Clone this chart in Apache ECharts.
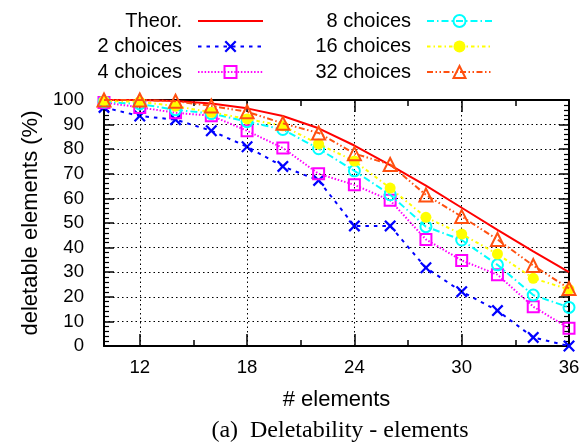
<!DOCTYPE html>
<html>
<head>
<meta charset="utf-8">
<script src="https://cdn.jsdelivr.net/npm/echarts@6/dist/echarts.min.js"></script>
<style>html,body{margin:0;padding:0;background:#fff}#c{width:585px;height:447px}</style>
</head>
<body>
<div id="c"></div>
<script>
// ---- data ----
const elements = [10, 12, 14, 16, 18, 20, 22, 24, 26, 28, 30, 32, 34, 36];
const theor    = [100, 100, 99.6, 98.6, 96.6, 93.5, 88.5, 81.5, 73.5, 65.2, 56.2, 47.2, 38.5, 30];
const choices2 = [97, 93.5, 92, 87.5, 81, 73, 67.3, 48.8, 48.8, 31.8, 22.1, 14.4, 3.5, 0];
const choices4 = [99, 97, 94.8, 93.6, 87.5, 80.5, 70, 65.5, 59.2, 43.3, 34.8, 29, 16, 7.2];
const choices8 = [99.2, 98.4, 96, 94.5, 91.2, 88, 80.2, 71.2, 61.5, 48.5, 43.1, 33, 20.7, 15.7];
const choices16 = [99.6, 99.3, 97.5, 95, 92.3, 89.5, 82.1, 75.2, 64.2, 52.3, 45.5, 37.4, 27.5, 23];
const choices32 = [100, 100, 99.5, 97.6, 95.2, 90.5, 86.6, 78.2, 73.8, 61.4, 52.6, 43.3, 32.7, 23.4];
const xMajorTicks = [12, 18, 24, 30];
const xMinorTicks = [15, 21, 27, 33];
const xTickLabels = [12, 18, 24, 30, 36];
const xGridLines = [12, 18, 24, 30];
const seriesNames = ['Theor.', '2 choices', '4 choices', '8 choices', '16 choices', '32 choices'];

const pairs = arr => elements.map((x, i) => [x, arr[i]]);
const SANS = "'Liberation Sans', Arial, sans-serif";
const XMARK = 'path://M0,1.6L1.6,0L6,4.4L10.4,0L12,1.6L7.6,6L12,10.4L10.4,12L6,7.6L1.6,12L0,10.4L4.4,6Z';

const chart = echarts.init(document.getElementById('c'), null, {renderer: 'canvas'});

function xAxisDef(pos, ticks, len, showLine, labels, name) {
  return {
    type: 'value', position: pos, min: 10, max: 36,
    name: name || '', nameLocation: 'middle', nameGap: 43,
    nameTextStyle: {fontFamily: SANS, fontSize: 22, color: '#000'},
    axisLine: {show: showLine, onZero: false, lineStyle: {color: '#000', width: 2}},
    axisTick: {show: true, inside: true, length: len, customValues: ticks, lineStyle: {color: '#000', width: 1.5}},
    axisLabel: labels ? {show: true, customValues: labels, margin: 12, fontFamily: SANS, fontSize: 18.6, color: '#000'} : {show: false},
    splitLine: {show: false}
  };
}
function yAxisDef(pos, main) {
  return {
    type: 'value', position: pos, min: 0, max: 100, interval: 10,
    name: main ? 'deletable elements (%)' : '', nameLocation: 'middle', nameGap: 62, nameRotate: 90,
    nameTextStyle: {fontFamily: SANS, fontSize: 22, color: '#000'},
    axisLine: {show: true, onZero: false, lineStyle: {color: '#000', width: 2}},
    axisTick: {show: true, inside: true, length: 10, lineStyle: {color: '#000', width: 1.5}},
    minorTick: {show: true, splitNumber: 5, length: 5, lineStyle: {color: '#000', width: 1.2}},
    axisLabel: main ? {show: true, margin: 20, fontFamily: SANS, fontSize: 18.6, color: '#000'} : {show: false},
    splitLine: main ? {show: true, lineStyle: {color: '#000', width: 1, type: [1.5, 3]}} : {show: false}
  };
}

const legendPos = [
  {right: 321, top: 11}, {right: 321, top: 36.5}, {right: 321, top: 62},
  {right: 92, top: 11}, {right: 92, top: 36.5}, {right: 92, top: 62}
];
const legends = seriesNames.map((n, i) => ({
  data: [i === 0 ? {name: n, itemStyle: {opacity: 0}} : n],
  orient: 'horizontal', align: 'right', padding: 0,
  right: legendPos[i].right, top: legendPos[i].top,
  itemWidth: 65, itemHeight: 15, selectedMode: false,
  textStyle: {fontFamily: SANS, fontSize: 20, color: '#000', padding: [0, 11, 0, 0]}
}));

function lineSeries(name, arr, color, dash, symbol, size, filled, z) {
  return {
    name, type: 'line', data: pairs(arr), z,
    symbol, symbolSize: size, showSymbol: symbol !== 'none',
    lineStyle: {color, width: 2, type: dash},
    itemStyle: filled ? {color} : {color: 'rgba(0,0,0,0)', borderColor: color, borderWidth: 2},
    emphasis: {disabled: true}, animation: false
  };
}

const option = {
  animation: false,
  grid: {left: 104, right: 16, top: 100, bottom: 101},
  legend: legends,
  xAxis: [
    xAxisDef('bottom', xMajorTicks, 12, true, xTickLabels, '# elements'),
    xAxisDef('bottom', xMinorTicks, 6, false, null),
    xAxisDef('top', xMajorTicks, 12, true, null),
    xAxisDef('top', xMinorTicks, 6, false, null)
  ],
  yAxis: [yAxisDef('left', true), yAxisDef('right', false)],
  series: [
    {
      name: 'grid', type: 'line', data: pairs(theor), z: 1, silent: true,
      symbol: 'none', lineStyle: {opacity: 0}, animation: false,
      markLine: {
        silent: true, symbol: ['none', 'none'], animation: false,
        label: {show: false}, emphasis: {disabled: true},
        lineStyle: {color: '#000', width: 1, type: [1.5, 3]},
        data: xGridLines.map(v => ({xAxis: v}))
      }
    },
    lineSeries('Theor.', theor, '#ff0000', 'solid', 'none', 0, true, 3),
    lineSeries('2 choices', choices2, '#0000ff', [3.5, 5], XMARK, 12, true, 4),
    lineSeries('4 choices', choices4, '#ff00ff', [1.5, 1.8], 'rect', 11, false, 5),
    lineSeries('8 choices', choices8, '#00ffff', [7, 3, 1.5, 3], 'circle', 11, false, 6),
    lineSeries('16 choices', choices16, '#ffff00', [3.5, 3, 1.5, 3], 'circle', 11, true, 7),
    lineSeries('32 choices', choices32, '#ff5010', [6, 2.5, 1.5, 2.5, 1.5, 2.5], 'triangle', 13, false, 8)
  ],
  graphic: [{
    type: 'text', x: 340, y: 431,
    style: {text: '(a)  Deletability - elements', font: "24px 'Liberation Serif', 'Times New Roman', serif",
            fill: '#000', textAlign: 'center', textVerticalAlign: 'middle'}
  }]
};
chart.setOption(option);
</script>
</body>
</html>
